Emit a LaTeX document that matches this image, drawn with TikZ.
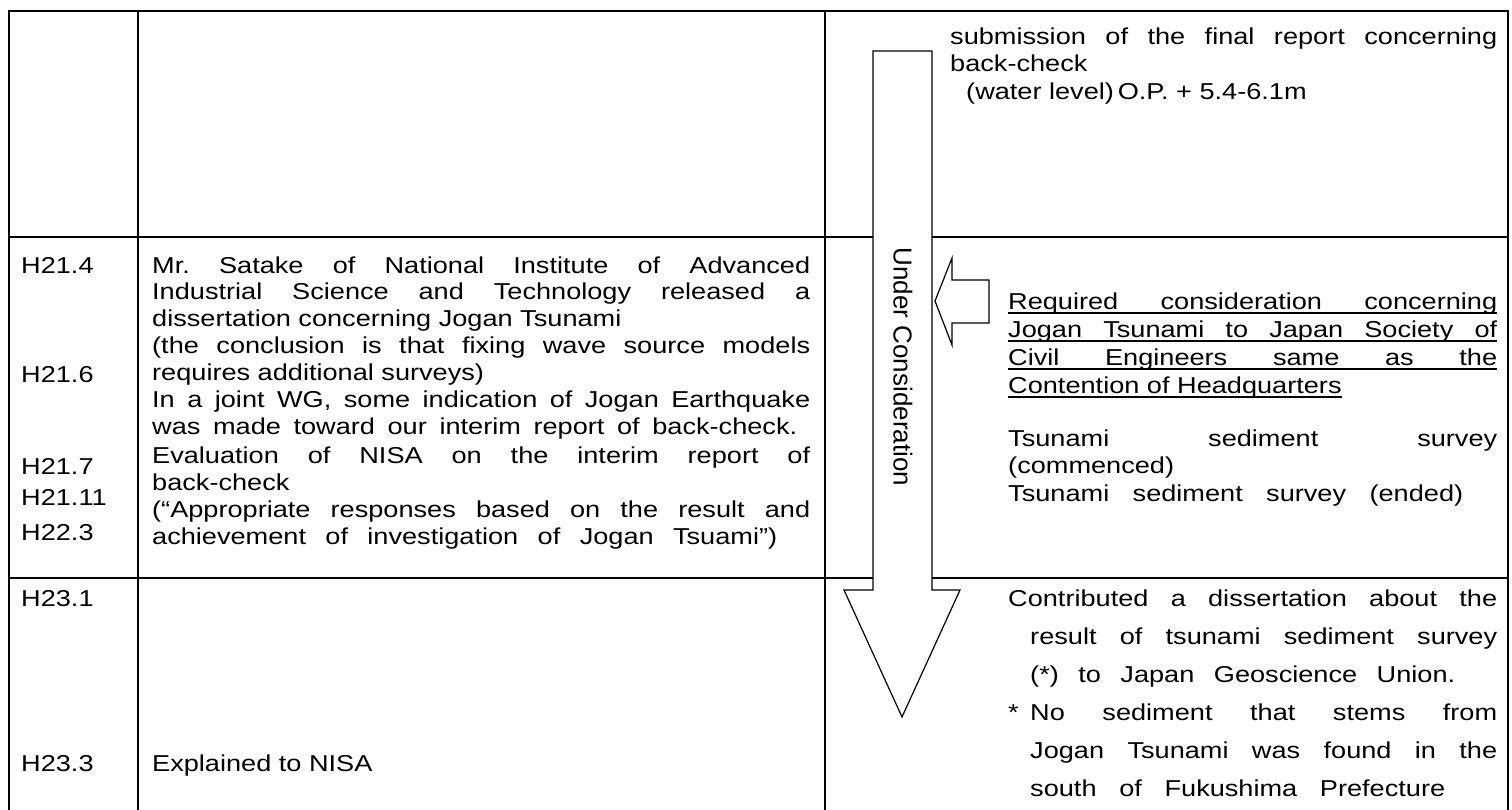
\documentclass[tikz,border=0pt]{standalone}
\usepackage{fontspec}
\setmainfont{Liberation Sans}[FakeStretch=1.18]
\newfontfamily\rotfont{Liberation Sans}
\frenchspacing
\newcommand\jline[5]{\node[txt] (#1) at (#2,#3) {\makebox[#4pt][s]{#5}};}
\newcommand\nline[4]{\node[txt] (#1) at (#2,#3) {#4};}
\newcommand\ujline[5]{\node[txt] (#1) at (#2,#3) {\rlap{\rule[-4.5pt]{#4pt}{2.2pt}}\makebox[#4pt][s]{#5}};}
\newcommand\unline[4]{\node[txt] (#1) at (#2,#3) {\setbox0\hbox{#4}\rlap{\rule[-4.5pt]{\wd0}{2.2pt}}\box0};}
\begin{document}
\begin{tikzpicture}[x=1pt,y=-1pt,
  tbl/.style={line width=2pt,line cap=rect},
  arrowshape/.style={draw,line width=1.2pt,fill=white,line join=miter},
  txt/.style={inner sep=0pt,anchor=west,text height=16.5pt,text depth=0pt,font=\fontsize{23}{27}\selectfont},
  rottxt/.style={inner sep=0pt,rotate=-90,font=\rotfont\fontsize{26}{27}\selectfont}]
\useasboundingbox (0,0) rectangle (1512,809);
% table frame
\coordinate (t0) at (9,11);    \coordinate (t1) at (137.5,11);
\coordinate (t2) at (825,11);  \coordinate (t3) at (1508,11);
\coordinate (b0) at (9,812);   \coordinate (b1) at (137.5,812);
\coordinate (b2) at (825,812); \coordinate (b3) at (1508,812);
\coordinate (r1a) at (9,237);  \coordinate (r1b) at (1508,237);
\coordinate (r2a) at (9,578);  \coordinate (r2b) at (1508,578);
\draw[tbl] (t0) -- (t3);
\draw[tbl] (r1a) -- (r1b);
\draw[tbl] (r2a) -- (r2b);
\draw[tbl] (t0) -- (b0);
\draw[tbl] (t1) -- (b1);
\draw[tbl] (t2) -- (b2);
\draw[tbl] (t3) -- (b3);
% big downward arrow
\draw[arrowshape] (873,51) -- (932,51) -- (932,590) -- (960,590) -- (902,717)
  -- (844,590) -- (873,590) -- cycle;
\node[rottxt] (under) at (903,367) {Under Consideration};
% left arrow
\draw[arrowshape] (935,301) -- (952,258) -- (952,280) -- (989,280) -- (989,323)
  -- (952,323) -- (952,345) -- cycle;
% dates
\nline{d1}{21}{265}{H21.4}
\nline{d2}{21}{374}{H21.6}
\nline{d3}{21}{466}{H21.7}
\nline{d4}{21}{497}{H21.11}
\nline{d5}{21}{532}{H22.3}
\nline{d6}{21}{598}{H23.1}
\nline{d7}{21}{763}{H23.3}
% left column
\jline{l1}{152}{265}{658}{Mr. Satake of National Institute of Advanced}
\jline{l2}{152}{291}{658}{Industrial Science and Technology released a}
\nline{l3}{152}{318}{dissertation concerning Jogan Tsunami}
\jline{l4}{152}{345}{658}{(the conclusion is that fixing wave source models}
\nline{l5}{152}{372}{requires additional surveys)}
\jline{l6}{152}{399}{658}{In a joint WG, some indication of Jogan Earthquake}
\jline{l7}{152}{426}{645}{was made toward our interim report of back-check.}
\jline{l8}{152}{455}{658}{Evaluation of NISA on the interim report of}
\nline{l9}{152}{482}{back-check}
\jline{l10}{152}{509}{658}{(“Appropriate responses based on the result and}
\jline{l11}{152}{536}{625}{achievement of investigation of Jogan Tsuami”)}
\nline{l12}{152}{763}{Explained to NISA}
% right column, top row
\jline{s1}{950}{36}{547}{submission of the final report concerning}
\nline{s2}{950}{63}{back-check}
\nline{s3}{966}{91}{(water level)\,O.P. + 5.4-6.1m}
% right column, middle row
\ujline{m1}{1008}{301}{489}{Required consideration concerning}
\ujline{m2}{1008}{329}{489}{Jogan Tsunami to Japan Society of}
\ujline{m3}{1008}{357}{489}{Civil Engineers same as the}
\unline{m4}{1008}{385}{Contention of Headquarters}
\jline{m5}{1008}{438}{489}{Tsunami sediment survey}
\nline{m6}{1008}{465}{(commenced)}
\jline{m7}{1008}{493}{455}{Tsunami sediment survey (ended)}
% right column, bottom row
\jline{c1}{1008}{598}{489}{Contributed a dissertation about the}
\jline{c2}{1030}{636}{467}{result of tsunami sediment survey}
\jline{c3}{1030}{674}{425}{(*) to Japan Geoscience Union.}
\nline{c4}{1008}{712}{*}
\jline{c5}{1030}{712}{467}{No sediment that stems from}
\jline{c6}{1030}{750}{467}{Jogan Tsunami was found in the}
\jline{c7}{1030}{788}{415}{south of Fukushima Prefecture}
\end{tikzpicture}
\end{document}
